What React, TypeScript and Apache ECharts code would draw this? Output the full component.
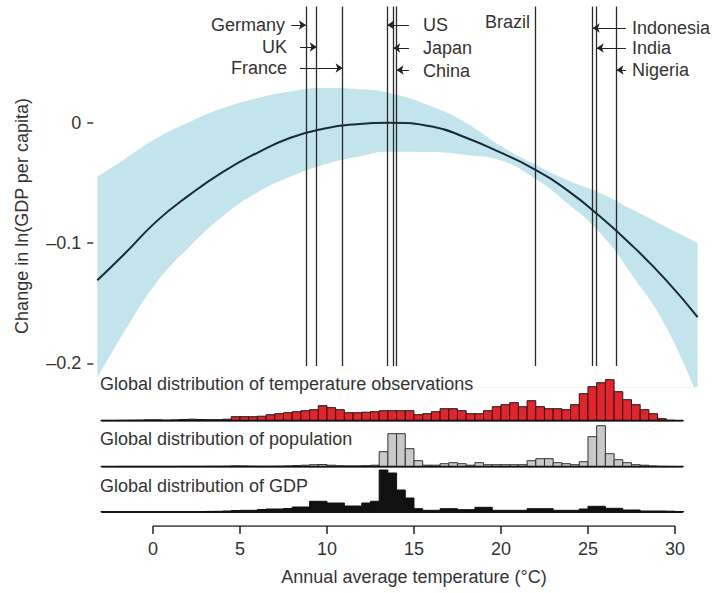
import React, { useEffect, useRef } from 'react';
import * as echarts from 'echarts';

// ---------- data ----------
const curveT = [-3.2, -1.7, 0.2, 2.1, 4.0, 6.0, 7.9, 9.8, 11.7, 13.6, 16.1, 18.0, 19.9, 21.8, 23.8, 25.7, 27.6, 29.5, 31.3];
const curveMean = [-0.131, -0.110, -0.082, -0.060, -0.041, -0.025, -0.0125, -0.005, -0.0012, 0.0, -0.0033, -0.0125, -0.0243, -0.0377, -0.056, -0.078, -0.103, -0.131, -0.1615];
const bandUpper = [-0.045, -0.031, -0.013, 0.0006, 0.012, 0.0205, 0.026, 0.0288, 0.028, 0.0247, 0.013, -0.0002, -0.0185, -0.0335, -0.0476, -0.0584, -0.0726, -0.0867, -0.100];
const bandLower = [-0.212, -0.175, -0.133, -0.103, -0.078, -0.058, -0.045, -0.035, -0.0285, -0.0241, -0.0244, -0.0268, -0.031, -0.045, -0.0667, -0.0917, -0.128, -0.170, -0.228];

const countryNames = ['Germany', 'UK', 'France', 'US', 'Japan', 'China', 'Brazil', 'Indonesia', 'India', 'Nigeria'];
const countryTemps = [8.79, 9.41, 10.9, 13.47, 13.81, 14.0, 21.97, 25.27, 25.5, 26.64];
// arrows: start temperature, height (ln GDP units) ; Brazil has no arrow
const arrowFromT = [7.95, 8.45, 8.45, 14.71, 14.71, 14.71, null, 27.18, 27.18, 27.18];
const arrowY = [0.0812, 0.0629, 0.0455, 0.0812, 0.0621, 0.0438, null, 0.0787, 0.0621, 0.0438];

const binStart = -3;
const binWidth = 0.5;
const tempObs = [0.3, 0.3, 0.4, 0.5, 0.6, 0.9, 0.9, 0.6, 0.8, 1.2, 1.5, 1.2, 1.0, 1.0, 1.5, 4, 4, 4, 4.5, 6, 7, 8, 9, 10, 11, 15, 13, 11, 8, 8, 8.5, 9, 10, 10, 10, 10, 6, 7, 9, 12, 12, 10, 7, 7, 10, 14, 16, 18, 14, 20, 14, 12, 12, 11, 16, 27, 34, 38, 41, 29, 21, 16, 11, 7, 2, 0.5, 0.2];
const population = [0.2, 0.2, 0.3, 0.3, 0.3, 0.3, 0.3, 0.3, 0.3, 0.4, 0.4, 0.4, 0.5, 0.5, 0.6, 0.9, 0.8, 0.6, 0.5, 0.5, 0.6, 0.8, 1.2, 1.5, 2, 2.2, 1.5, 1, 0.8, 0.8, 1, 1.5, 15, 33, 33, 18, 6, 1.5, 1.5, 3, 4, 3, 1.5, 4, 2, 2, 2, 2, 2, 6, 8, 8, 4, 3, 2, 5, 30, 41, 13, 7, 4, 2, 1.5, 0.7, 0.4, 0.3, 0.2];
const gdp = [0.3, 0.3, 0.3, 0.3, 0.3, 0.3, 0.3, 0.3, 0.3, 0.3, 0.4, 0.5, 0.6, 0.7, 1, 1.5, 1.7, 1.7, 2.5, 3, 3, 3.5, 5, 5, 10.7, 10.7, 9, 9, 6, 6, 9, 10.7, 42, 39, 22, 14, 3.3, 1.7, 1.7, 3.3, 3.3, 2.3, 2.3, 4.7, 4.7, 1.7, 1.7, 1.7, 1.7, 3.3, 3.3, 3.3, 1.7, 1.7, 1.7, 3, 5.7, 5.7, 3.7, 3.7, 2, 2, 1, 1, 1, 0.8, 0.5];

const xTicks = [0, 5, 10, 15, 20, 25, 30];
const yTicks = [0, -0.1, -0.2];
const histTitles = ['Global distribution of temperature observations', 'Global distribution of population', 'Global distribution of GDP'];

// ---------- layout ----------
const X_MIN = -3.2;
const X_MAX = 31.3;
const Y_MIN = -0.22;
const Y_MAX = 0.1;
const G_LEFT = 97.3;
const G_WIDTH = 600.3;
const LINE_BOTTOM = -0.2022;
const LINE_TOP = 0.0965;
const BASE_FROM = -2.95;
const BASE_TO = 30.45;
const SMOOTH = 0.5;
const FONT = "'Liberation Sans', Arial, Helvetica, sans-serif";
const TXT = '#333333';

const binStarts = tempObs.map((_, i) => binStart + i * binWidth);

function histSeries(idx: number, values: number[], fill: string, stroke: string) {
  return {
    type: 'custom',
    xAxisIndex: idx,
    yAxisIndex: idx,
    silent: true,
    clip: false,
    z: 10,
    data: values.map((v, i) => [binStarts[i], binStarts[i] + binWidth, v]),
    encode: { x: [0, 1], y: 2 },
    renderItem: (_p: any, api: any) => {
      const a = api.coord([api.value(0), api.value(2)]);
      const b = api.coord([api.value(1), 0]);
      return {
        type: 'rect',
        shape: { x: a[0], y: a[1], width: b[0] - a[0], height: b[1] - a[1] },
        style: { fill, stroke, lineWidth: 1 },
      };
    },
  };
}

function baseline(idx: number) {
  return {
    type: 'line',
    xAxisIndex: idx,
    yAxisIndex: idx,
    silent: true,
    symbol: 'none',
    z: 11,
    lineStyle: { color: '#111', width: 2 },
    data: [[BASE_FROM, 0], [BASE_TO, 0]],
  };
}

function text(t: string, x: number, y: number, align: string, extra: any = {}) {
  return {
    type: 'text',
    x,
    y,
    z: 100,
    silent: true,
    ...extra,
    style: { text: t, fill: TXT, fontSize: 18, fontFamily: FONT, align, verticalAlign: 'middle' },
  };
}

export default function App() {
  const ref = useRef<HTMLDivElement>(null);
  useEffect(() => {
    if (!ref.current) return;
    const chart = echarts.init(ref.current, undefined, { renderer: 'svg' });

    const hiddenX = (i: number) => ({
      gridIndex: i, type: 'value', min: X_MIN, max: X_MAX, show: false,
      axisLine: { show: false, onZero: false }, axisTick: { show: false }, axisLabel: { show: false }, splitLine: { show: false },
    });
    const hiddenY = (i: number, max: number) => ({
      gridIndex: i, type: 'value', min: 0, max, show: false,
      axisLine: { show: false, onZero: false }, axisTick: { show: false }, axisLabel: { show: false }, splitLine: { show: false },
    });

    const arrowData: any[] = [];
    countryTemps.forEach((t, i) => {
      if (arrowFromT[i] == null) return;
      arrowData.push([{ coord: [arrowFromT[i], arrowY[i]] }, { coord: [t, arrowY[i]] }]);
    });

    const labelPos: [number, number, string][] = [
      [285, 25, 'right'], [287, 47, 'right'], [287, 68, 'right'],
      [423, 25, 'left'], [423, 48, 'left'], [423, 71, 'left'],
      [530, 22, 'right'],
      [632, 28, 'left'], [632, 48, 'left'], [632, 70, 'left'],
    ];

    const option: any = {
      animation: false,
      backgroundColor: '#ffffff',
      grid: [
        { left: G_LEFT, width: G_WIDTH, top: 2.4, height: 385 },
        { left: G_LEFT, width: G_WIDTH, top: 375.7, height: 45 },
        { left: G_LEFT, width: G_WIDTH, top: 421.7, height: 45 },
        { left: G_LEFT, width: G_WIDTH, top: 467, height: 45 },
        { left: G_LEFT, width: G_WIDTH, top: 526, height: 8 },
      ],
      xAxis: [
        hiddenX(0), hiddenX(1), hiddenX(2), hiddenX(3),
        {
          gridIndex: 4, type: 'value', min: X_MIN, max: X_MAX, position: 'bottom',
          axisLine: { show: false, onZero: false },
          splitLine: { show: false },
          axisTick: { show: true, inside: true, length: 8, customValues: xTicks, lineStyle: { color: '#222', width: 1.5 } },
          axisLabel: { customValues: xTicks, margin: 6, fontSize: 18, fontFamily: FONT, color: TXT },
        },
      ],
      yAxis: [
        {
          gridIndex: 0, type: 'value', min: Y_MIN, max: Y_MAX, offset: 4, position: 'left',
          axisLine: { show: false, onZero: false },
          splitLine: { show: false },
          axisTick: { show: true, length: 6, customValues: yTicks, lineStyle: { color: '#333', width: 1.5 } },
          axisLabel: {
            customValues: yTicks, margin: 12, fontSize: 18, fontFamily: FONT, color: TXT,
            formatter: (v: number) => (Math.abs(v) < 1e-9 ? '0' : '\u2013' + Math.abs(v).toFixed(1)),
          },
        },
        hiddenY(1, 45), hiddenY(2, 45), hiddenY(3, 45), hiddenY(4, 1),
      ],
      series: [
        // confidence band: upper bound filled down to the axis minimum in blue
        {
          type: 'line', xAxisIndex: 0, yAxisIndex: 0, silent: true, symbol: 'none', smooth: SMOOTH,
          z: 1,
          lineStyle: { opacity: 0 },
          areaStyle: { color: '#c2e4ec', opacity: 1, origin: 'start' },
          data: curveT.map((t, i) => [t, bandUpper[i]]),
        },
        // lower bound filled down to the axis minimum in white (cuts the band)
        {
          type: 'line', xAxisIndex: 0, yAxisIndex: 0, silent: true, symbol: 'none', smooth: SMOOTH,
          z: 2,
          lineStyle: { opacity: 0 },
          areaStyle: { color: '#ffffff', opacity: 1, origin: 'start' },
          data: curveT.map((t, i) => [t, bandLower[i]]),
          markLine: {
            silent: true, symbol: ['none', 'arrow'], symbolSize: 7,
            label: { show: false },
            lineStyle: { color: '#222', width: 1, type: 'solid' },
            data: arrowData,
          },
        },
        {
          type: 'line', xAxisIndex: 0, yAxisIndex: 0, silent: true, symbol: 'none', smooth: SMOOTH,
          z: 5,
          lineStyle: { color: '#1b2a38', width: 2 },
          data: curveT.map((t, i) => [t, curveMean[i]]),
          markLine: {
            silent: true, symbol: ['none', 'none'],
            label: { show: false },
            lineStyle: { color: '#2a2a2a', width: 1.3, type: 'solid' },
            data: countryTemps.map((t) => [{ coord: [t, LINE_BOTTOM] }, { coord: [t, LINE_TOP] }]),
          },
        },
        histSeries(1, tempObs, '#e3242b', '#1a1a1a'),
        histSeries(2, population, '#c9c9c9', '#333333'),
        histSeries(3, gdp, '#111111', '#111111'),
        baseline(1), baseline(2), baseline(3),
        {
          type: 'line', xAxisIndex: 4, yAxisIndex: 4, silent: true, symbol: 'none',
          lineStyle: { color: '#222', width: 1.5 },
          data: [[xTicks[0], 1], [xTicks[xTicks.length - 1], 1]],
        },
      ],
      graphic: [
        ...countryNames.map((n, i) => text(n, labelPos[i][0], labelPos[i][1], labelPos[i][2])),
        text(histTitles[0], 100, 384, 'left'),
        text(histTitles[1], 100, 439, 'left'),
        text(histTitles[2], 100, 486, 'left'),
        text('Annual average temperature (\u00b0C)', 414, 577, 'center'),
        text('Change in ln(GDP per capita)', 22, 216, 'center', { rotation: Math.PI / 2 }),
      ],
    };
    chart.setOption(option);
    return () => chart.dispose();
  }, []);
  return (
    <div
      ref={ref}
      style={{ position: 'fixed', left: 0, top: 0, width: 716, height: 593, background: '#fff' }}
    />
  );
}
